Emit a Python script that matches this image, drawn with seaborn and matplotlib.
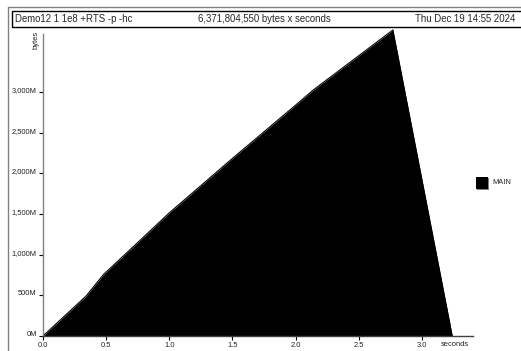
import matplotlib
matplotlib.use("Agg")
import matplotlib.pyplot as plt
import seaborn as sns
import pandas as pd
from matplotlib.patches import Rectangle
from matplotlib.lines import Line2D

# ---- data (seconds, MB of heap) ----
seconds = [0.0, 0.34, 0.48, 0.75, 1.0, 1.5, 2.0, 2.14, 2.5, 2.77, 3.24]
main_mb = [0, 490, 758, 1150, 1515, 2185, 2840, 3026, 3448, 3764, 0]
x_ticks = [0.0, 0.5, 1.0, 1.5, 2.0, 2.5, 3.0]
x_tick_labels = ["0.0", "0.5", "1.0", "1.5", "2.0", "2.5", "3.0"]
y_ticks = [0, 500, 1000, 1500, 2000, 2500, 3000]
y_tick_labels = ["0M", "500M", "1,000M", "1,500M", "2,000M", "2,500M", "3,000M"]
title_left = "Demo12 1 1e8 +RTS -p -hc"
title_mid = "6,371,804,550 bytes x seconds"
title_right = "Thu Dec 19 14:55 2024"
series_name = "MAIN"

df = pd.DataFrame({"seconds": seconds, "bytes": main_mb})

sns.set_theme(style="white")
plt.rcParams["font.family"] = ["Liberation Sans", "DejaVu Sans"]

W, H = 521, 351
fig = plt.figure(figsize=(W / 100, H / 100), dpi=100)

def fx(px):
    return px / W

def fy(py):
    return 1 - py / H

# outer frame lines
fig.add_artist(Line2D([fx(8), fx(8)], [fy(6.5), fy(351)], color="#808080", lw=1.0))
fig.add_artist(Line2D([fx(8), fx(521)], [fy(6.5), fy(6.5)], color="#808080", lw=1.0))
# header box
fig.add_artist(Rectangle((fx(12), fy(26.5)), fx(521) - fx(12) + 0.01, fy(11.5) - fy(26.5),
                         fill=False, edgecolor="black", lw=1.0))
fig.text(fx(15), fy(19), title_left, fontsize=6.9, ha="left", va="center")
fig.text(fx(264), fy(19), title_mid, fontsize=6.9, ha="center", va="center")
fig.text(fx(515), fy(19), title_right, fontsize=6.9, ha="right", va="center")

# axes: x 0 at px 43, 3.402 at px 472.7 ; y 0 at py 336, 81.3 px per 1000M
x0_px, x1_px = 43, 472.7
xmax = 3.402
ymax = 3800
y0_py = 336
ytop_py = y0_py - ymax / 1000 * 81.3
ax = fig.add_axes([fx(x0_px), 1 - y0_py / H, fx(x1_px) - fx(x0_px), (y0_py - ytop_py) / H])

sns.lineplot(data=df, x="seconds", y="bytes", ax=ax, color="black", lw=0.8, sort=False)
ax.fill_between(df["seconds"], 0, df["bytes"], color="black", lw=0, label=series_name)

ax.set_xlim(0, xmax)
ax.set_ylim(0, ymax)
ax.set_xticks(x_ticks)
ax.set_xticklabels(x_tick_labels)
ax.set_yticks(y_ticks)
ax.set_yticklabels(y_tick_labels)
ax.set_xlabel("")
ax.set_ylabel("")
for s in ["top", "right"]:
    ax.spines[s].set_visible(False)
ax.spines["left"].set_color("#808080")
ax.spines["left"].set_linewidth(1.0)
ax.spines["left"].set_bounds(0, 3720)
ax.spines["bottom"].set_color("#404040")
ax.spines["bottom"].set_linewidth(1.0)
ax.tick_params(axis="both", which="both", length=3, width=0.8, color="black",
               labelsize=5.4, pad=1.5, bottom=True, left=True, labelcolor="#222222")
for lab in ax.get_yticklabels():
    lab.set_verticalalignment("baseline")

fig.text(fx(455), fy(344), "seconds", fontsize=5.4, ha="center", va="center", color="#222222")
fig.text(fx(36), fy(40), "bytes", fontsize=5.4, ha="center", va="center", rotation=90, color="#222222")

# legend
fig.add_artist(Rectangle((fx(477), fy(190)), fx(12), 12 / H, facecolor="#808080", edgecolor="none"))
fig.add_artist(Rectangle((fx(476), fy(189)), fx(12), 12 / H, facecolor="black", edgecolor="none"))
fig.text(fx(492), fy(183), series_name, fontsize=5.4, ha="left", va="center", color="#222222")

fig.savefig("out.png", dpi=100)
